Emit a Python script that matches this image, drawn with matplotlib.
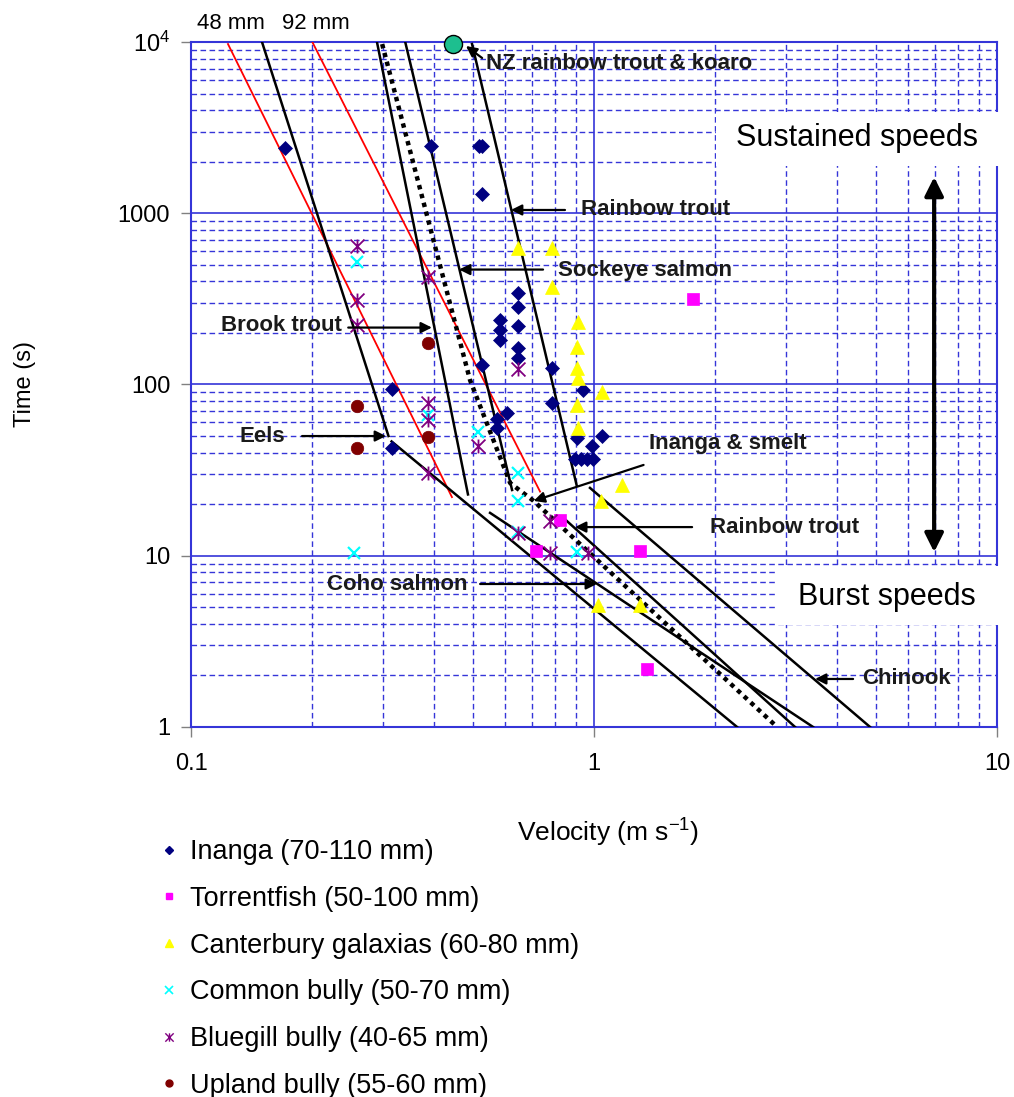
import numpy as np
import matplotlib.pyplot as plt
from matplotlib.lines import Line2D
from matplotlib.patches import Rectangle
from matplotlib.path import Path
from matplotlib.ticker import LogLocator, NullFormatter

plt.rcParams['font.family'] = ['Liberation Sans', 'DejaVu Sans']
plt.rcParams['mathtext.fontset'] = 'custom'
plt.rcParams['mathtext.rm'] = 'Liberation Sans'
plt.rcParams['mathtext.it'] = 'Liberation Sans:italic'
plt.rcParams['mathtext.bf'] = 'Liberation Sans:bold'

# ---- measured fish (velocity m/s, time s)
inanga_v = [0.171, 0.394, 0.5185, 0.5275, 0.5275, 0.648, 0.648, 0.648, 0.648, 0.648,
            0.583, 0.583, 0.583, 0.5275, 0.787, 0.3145, 0.939, 0.787, 0.608, 0.576,
            0.576, 1.044, 0.988, 0.905, 0.897, 0.928, 0.961, 0.994, 0.3145]
inanga_t = [2405, 2470, 2470, 2470, 1287, 342, 282, 221, 164, 143,
            238, 208, 182, 130, 125, 93.5, 93, 78, 68, 63,
            56, 50, 44, 49, 36.5, 36.5, 36.5, 36.5, 42.6]

torrent_v = [1.761, 0.823, 0.718, 1.297, 1.354]
torrent_t = [316, 16.2, 10.6, 10.6, 2.18]

galaxias_v = [0.648, 0.787, 0.787, 0.913, 0.905, 0.905, 0.913, 1.044, 0.905, 0.913,
              1.173, 1.04, 1.023, 1.297]
galaxias_t = [631, 631, 371, 231, 166, 125, 109, 90, 75.4, 56,
              25.9, 20.9, 5.16, 5.16]

common_v = [0.258, 0.3875, 0.5155, 0.648, 0.648, 0.648, 0.905, 0.254]
common_t = [519, 66, 52.5, 30.6, 21, 13.7, 10.5, 10.4]

bluegill_v = [0.258, 0.258, 0.258, 0.3875, 0.648, 0.3875, 0.3875, 0.3875, 0.5155,
              0.778, 0.648, 0.778, 0.966]
bluegill_t = [640, 313, 222, 424, 123, 78, 62, 30.6, 43.7,
              16, 13.6, 10.4, 10.4]

upland_v = [0.3875, 0.258, 0.3875, 0.258]
upland_t = [175, 75, 49.4, 42.6]

koaro_v = [0.447]
koaro_t = [9800]

legend_labels = ['Inanga (70-110 mm)', 'Torrentfish (50-100 mm)',
                 'Canterbury galaxias (60-80 mm)', 'Common bully (50-70 mm)',
                 'Bluegill bully (40-65 mm)', 'Upland bully (55-60 mm)']

# ---- published swimming-speed curves (velocity, time)
red48_v, red48_t = [0.1235, 0.444], [9730, 22]
red92_v, red92_t = [0.200, 0.7345], [10000, 23.7]
eels_v, eels_t = [0.150, 0.309], [10000, 50]
eels_burst_v, eels_burst_t = [0.3145, 2.264], [46.5, 1]
brook_v, brook_t = [0.2893, 0.4866], [10000, 22.8]
sockeye_v, sockeye_t = [0.340, 0.626], [10000, 24.2]
rainbow_v, rainbow_t = [0.498, 0.905], [9730, 25.9]
rainbow_burst_v, rainbow_burst_t = [0.838, 3.153], [16.7, 1]
coho_v, coho_t = [0.552, 3.495], [17.8, 1]
chinook_v, chinook_t = [0.977, 4.84], [24.9, 1]
smelt_v = [0.298, 0.4924, 0.619, 0.708, 2.846]
smelt_t = [9730, 106, 26.6, 20.9, 1]

fig = plt.figure(figsize=(10.14, 10.97), dpi=100)
ax = fig.add_axes([0.1884, 0.3373, 0.7949, 0.6244])
ax.set_xscale('log')
ax.set_yscale('log')
ax.set_xlim(0.1, 10)
ax.set_ylim(1, 1e4)

gc = '#3535d8'
ax.set_axisbelow(True)
ax.xaxis.set_minor_locator(LogLocator(base=10, subs=np.arange(2, 10)))
ax.yaxis.set_minor_locator(LogLocator(base=10, subs=np.arange(2, 10)))
ax.xaxis.set_minor_formatter(NullFormatter())
ax.yaxis.set_minor_formatter(NullFormatter())
ax.grid(which='major', color=gc, lw=1.2, ls='-')
ax.grid(which='minor', color=gc, lw=1.0, ls=(0, (4, 2.5)))
for s in ax.spines.values():
    s.set_color(gc)
    s.set_linewidth(1.5)

ax.set_xticks([0.1, 1, 10], ['0.1', '1', '10'])
ax.set_yticks([1, 10, 100, 1000, 1e4], ['1', '10', '100', '1000', r'$10^4$'])
ax.tick_params(which='minor', length=0)
ax.tick_params(which='major', length=7, width=1, color='gray', labelsize=17)
ax.tick_params(axis='y', pad=8)
ax.tick_params(axis='x', pad=12)

ax.set_xlabel(r'Velocity (m s$^{-1}$)', fontsize=19)
ax.xaxis.label.set_va('center')
ax.xaxis.set_label_coords(0.517, -0.154)
ax.set_ylabel('Time (s)', fontsize=17)
ax.yaxis.label.set_va('center')
ax.yaxis.set_label_coords(-0.206, 0.5)

# white boxes behind the speed labels
ax.add_patch(Rectangle((2.008, 1888), 10.17 - 2.008, 3901 - 1888, facecolor='white',
                       edgecolor='none', zorder=2.6, clip_on=False))
ax.add_patch(Rectangle((2.846, 3.95), 10.17 - 2.846, 8.7 - 3.95, facecolor='white',
                       edgecolor='none', zorder=2.6, clip_on=False))

# curves
ax.plot(red48_v, red48_t, color='red', lw=1.3, zorder=3)
ax.plot(red92_v, red92_t, color='red', lw=1.3, zorder=3)
for v, t in [(eels_v, eels_t), (eels_burst_v, eels_burst_t), (brook_v, brook_t),
             (sockeye_v, sockeye_t), (rainbow_v, rainbow_t),
             (rainbow_burst_v, rainbow_burst_t), (coho_v, coho_t), (chinook_v, chinook_t)]:
    ax.plot(v, t, color='black', lw=1.8, zorder=3)
ax.plot(smelt_v, smelt_t, color='black', lw=3.2, ls=(0, (1, 1.05)), zorder=3)

# points
asterisk = Path([(-1, -1), (1, 1), (-1, 1), (1, -1), (0, -1), (0, 1)],
                [Path.MOVETO, Path.LINETO, Path.MOVETO, Path.LINETO, Path.MOVETO, Path.LINETO])
ax.plot(inanga_v, inanga_t, 'D', color='#000080', ms=7.5, mew=0.5, zorder=4)
ax.plot(torrent_v, torrent_t, 's', color='#ff00ff', ms=8.5, mew=0.5, zorder=4)
ax.plot(galaxias_v, galaxias_t, '^', color='#ffff00', ms=10, mew=0.5, zorder=4)
ax.plot(common_v, common_t, 'x', color='#00ffff', ms=8.5, mew=1.6, zorder=4)
ax.plot(bluegill_v, bluegill_t, ls='none', marker=asterisk, color='#800080',
        mfc='none', ms=10, mew=1.3, zorder=4)
ax.plot(upland_v, upland_t, 'o', color='#800000', ms=9, mew=0.5, zorder=4)
ax.plot(koaro_v, koaro_t, 'o', color='#1dbf8f', mec='black', ms=13, mew=1.0,
        zorder=5, clip_on=False)

# annotations
afont = dict(fontsize=16, fontweight='bold', color='#1a1a1a', va='center', zorder=5)
arrow = dict(arrowstyle='-|>', color='black', lw=1.6, mutation_scale=16, shrinkA=0, shrinkB=0)

ax.text(0.54, 7540, 'NZ rainbow trout & koaro', ha='left', **afont)
ax.annotate('', xy=(0.481, 9476), xytext=(0.5275, 8068), arrowprops=arrow, zorder=5)
ax.text(0.928, 1045, 'Rainbow trout', ha='left', **afont)
ax.annotate('', xy=(0.622, 1045), xytext=(0.847, 1045), arrowprops=arrow, zorder=5)
ax.text(0.814, 466, 'Sockeye salmon', ha='left', **afont)
ax.annotate('', xy=(0.4624, 469), xytext=(0.7472, 469), arrowprops=arrow, zorder=5)
ax.text(0.237, 221, 'Brook trout', ha='right', **afont)
ax.annotate('', xy=(0.396, 215), xytext=(0.2455, 215), arrowprops=arrow, zorder=5)
ax.text(0.171, 49.4, 'Eels', ha='right', **afont)
ax.annotate('', xy=(0.3047, 50), xytext=(0.1886, 50), arrowprops=arrow, zorder=5)
ax.text(1.37, 45.5, 'Inanga & smelt', ha='left', **afont)
ax.annotate('', xy=(0.708, 20.9), xytext=(1.327, 33.9), arrowprops=arrow, zorder=5)
ax.text(1.94, 14.7, 'Rainbow trout', ha='left', **afont)
ax.annotate('', xy=(0.897, 14.7), xytext=(1.751, 14.7), arrowprops=arrow, zorder=5)
ax.text(0.4866, 6.75, 'Coho salmon', ha='right', **afont)
ax.annotate('', xy=(1.017, 6.84), xytext=(0.5215, 6.84), arrowprops=arrow, zorder=5)
ax.text(4.624, 1.907, 'Chinook', ha='left', **afont)
ax.annotate('', xy=(3.535, 1.907), xytext=(4.393, 1.907), arrowprops=arrow, zorder=5)

ax.text(4.494, 2751, 'Sustained speeds', fontsize=22, ha='center', va='center', zorder=5)
ax.text(5.333, 5.74, 'Burst speeds', fontsize=22, ha='center', va='center', zorder=5)
ax.annotate('', xy=(6.98, 1628), xytext=(6.98, 10.5),
            arrowprops=dict(arrowstyle='<|-|>', color='black', lw=3, mutation_scale=28,
                            shrinkA=0, shrinkB=0), zorder=5)

ax.text(0.1257, 12900, '48 mm', fontsize=16, ha='center', va='center')
ax.text(0.2042, 12900, '92 mm', fontsize=16, ha='center', va='center')

# legend
handles = [
    Line2D([], [], ls='none', marker='D', color='#000080', ms=4.5),
    Line2D([], [], ls='none', marker='s', color='#ff00ff', ms=5),
    Line2D([], [], ls='none', marker='^', color='#ffff00', ms=6),
    Line2D([], [], ls='none', marker='x', color='#00ffff', ms=5.5, mew=1.2),
    Line2D([], [], ls='none', marker=asterisk, color='#800080', mfc='none', ms=6, mew=1.0),
    Line2D([], [], ls='none', marker='o', color='#800000', ms=5),
]
fig.legend(handles, legend_labels, loc='upper left', bbox_to_anchor=(0.158, 0.235),
           frameon=False, fontsize=19.5, labelspacing=0.765, handlelength=0.65,
           handletextpad=0.45, borderpad=0, borderaxespad=0)

fig.savefig('out.png', dpi=100)
